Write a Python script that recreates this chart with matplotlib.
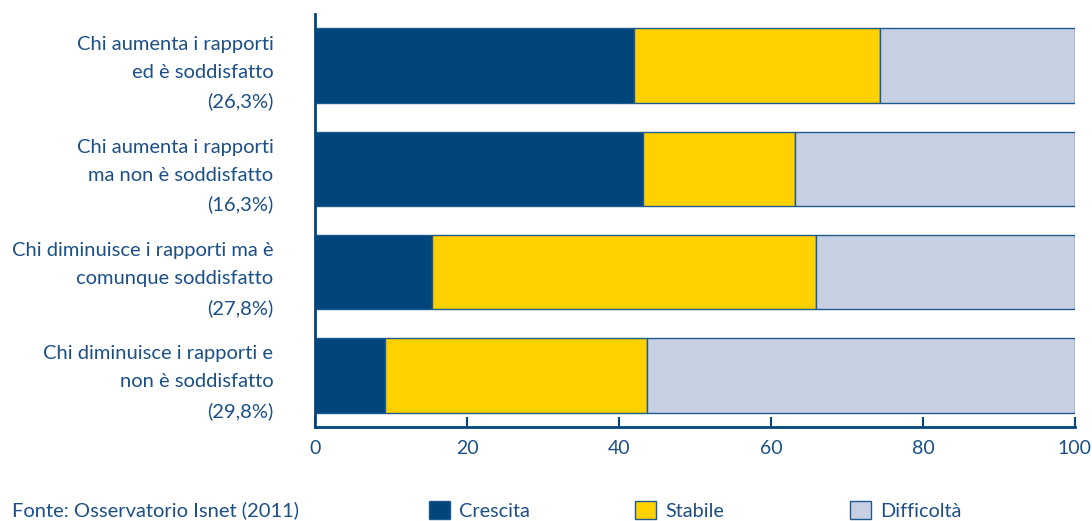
import matplotlib.pyplot as plt
from matplotlib.patches import Patch

plt.rcParams['font.family'] = ['Lato', 'DejaVu Sans']

categories = [
    "Chi aumenta i rapporti\ned è soddisfatto\n(26,3%)",
    "Chi aumenta i rapporti\nma non è soddisfatto\n(16,3%)",
    "Chi diminuisce i rapporti ma è\ncomunque soddisfatto\n(27,8%)",
    "Chi diminuisce i rapporti e\nnon è soddisfatto\n(29,8%)",
]
crescita = [42.0, 43.2, 15.4, 9.2]
stabile = [32.3, 20.0, 50.5, 34.5]
difficolta = [25.7, 36.8, 34.1, 56.3]
series_names = ["Crescita", "Stabile", "Difficoltà"]
ticks = [0, 20, 40, 60, 80, 100]

DARK = "#00467C"
YELLOW = "#FFD100"
LIGHT = "#C7D0E2"
TXT = "#1B4F86"
colors = [DARK, YELLOW, LIGHT]

fig = plt.figure(figsize=(10.92, 5.21), dpi=100)
ax = fig.add_axes([0.2885, 0.1804, 0.6959, 0.7927])

y = list(range(len(categories)))
left = [0.0] * len(categories)
for vals, col, name in zip([crescita, stabile, difficolta], colors, series_names):
    ax.barh(y, vals, left=left, height=0.72, color=col, edgecolor="#1F5A8E",
            linewidth=1.0, label=name)
    left = [l + v for l, v in zip(left, vals)]

ax.set_ylim(3.5, -0.5)
ax.set_xlim(0, 100)
ax.set_yticks(y)
ax.set_yticklabels(categories, fontsize=14.5, color=TXT, linespacing=1.78)
ax.set_xticks(ticks)
ax.set_xticklabels([str(t) for t in ticks], fontsize=14, color=TXT)
ax.tick_params(axis='y', length=0, pad=30)
ax.tick_params(axis='x', direction='in', length=7, width=1.5, color=DARK, pad=9)

for s in ['top', 'right']:
    ax.spines[s].set_visible(False)
for s in ['left', 'bottom']:
    ax.spines[s].set_color(DARK)
    ax.spines[s].set_linewidth(2)

fig.text(0.011, 0.021, "Fonte: Osservatorio Isnet (2011)", fontsize=14.5, color=TXT,
         va='center', ha='left')

legend_x = [0.389, 0.578, 0.775]
for name, col, lx in zip(series_names, colors, legend_x):
    h = Patch(facecolor=col, edgecolor="#1F5A8E", linewidth=1.0)
    fig.legend([h], [name], loc='lower left', bbox_to_anchor=(lx, -0.005),
               frameon=False, fontsize=14.3, labelcolor=TXT,
               handlelength=1.05, handleheight=1.05, handletextpad=0.45,
               borderaxespad=0.0, borderpad=0.2)

fig.savefig("out.png", dpi=100)
